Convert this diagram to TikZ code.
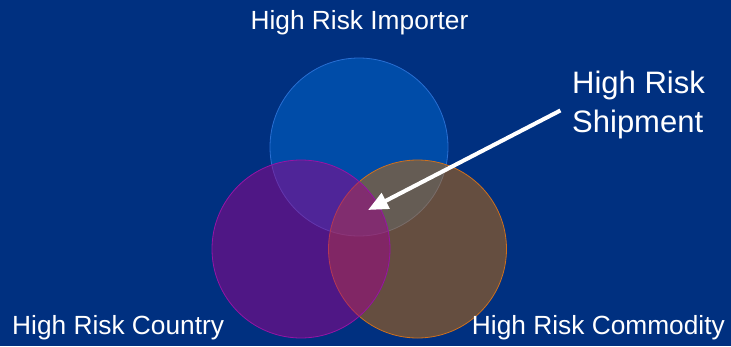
\documentclass[tikz,border=0pt]{standalone}
\usepackage{fontspec}
\setmainfont{Liberation Sans}
\usepackage{tikz}
\usetikzlibrary{arrows.meta,positioning}

\definecolor{slidebg}{RGB}{0,48,128}
\definecolor{importerfill}{RGB}{0,76,168}
\definecolor{importerline}{RGB}{40,110,210}
\definecolor{countryfill}{RGB}{158,0,138}
\definecolor{countryline}{RGB}{150,20,165}
\definecolor{commodityfill}{RGB}{202,108,2}
\definecolor{commodityline}{RGB}{205,112,30}

\tikzset{
	label text/.style={text=white,inner sep=0pt,font=\fontsize{26.3}{30}\selectfont},
	big text/.style={text=white,inner sep=0pt,align=left,font=\fontsize{31}{39}\selectfont},
	pointer/.style={white,line width=4pt,-{Triangle[length=20pt,width=17pt]}}
}

\begin{document}
\begin{tikzpicture}[x=1pt,y=-1pt]
		\fill[slidebg] (0,0) rectangle (731,346);
		\useasboundingbox (0,0) rectangle (731,346);
		% the three sets
		\fill[importerfill] (359,147) circle (89);
		\draw[importerline,line width=0.8pt] (359,147) circle (89);
		\fill[commodityfill,opacity=0.5] (417.5,249) circle (89);
		\draw[commodityline,line width=0.8pt] (417.5,249) circle (89);
		\fill[countryfill,opacity=0.5] (301,249) circle (89);
		\draw[countryline,line width=0.8pt] (301,249) circle (89);
		% labels
		\node[label text,anchor=base] (importer) at (359.5,29) {High Risk Importer};
		\node[label text,anchor=base west] (country) at (12,334) {High Risk Country};
		\node[label text,anchor=base east] (commodity) at (725,334) {High Risk Commodity};
		\node[big text,anchor=base west] (shipment) at (572,132) {High Risk\\Shipment};
		\coordinate (overlap) at (368,210);
		\draw[pointer,shorten <=13pt] (shipment.west) -- (overlap);
	\end{tikzpicture}
\end{document}
